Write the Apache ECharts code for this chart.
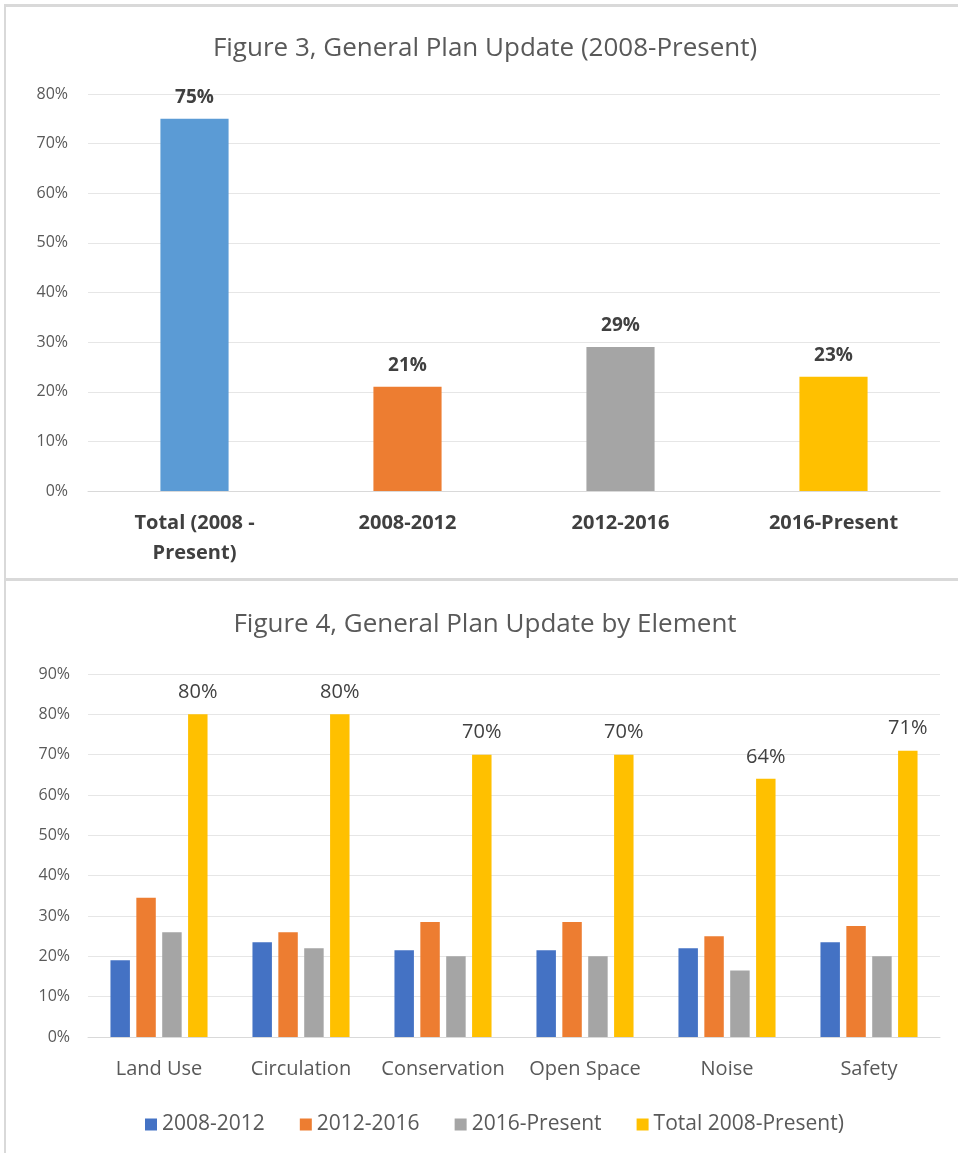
<!DOCTYPE html>
<html>
<head>
<meta charset="utf-8">
<script src="https://cdn.jsdelivr.net/npm/echarts@6/dist/echarts.min.js"></script>
<style>
    html, body { margin: 0; padding: 0; background: #fff; }
    .frame { position: absolute; left: 4px; width: 960px; border-left: 2px solid #d9d9d9; border-top: 3px solid #d9d9d9; box-sizing: border-box; }
    #fig3 { top: 4px; height: 577px; }
    #fig4 { top: 578px; height: 575px; }
</style>
</head>
<body>
<div id="fig3" class="frame"></div>
<div id="fig4" class="frame"></div>
<script>
    // Figure 3
    var periodCats = ['Total (2008 -\nPresent)', '2008-2012', '2012-2016', '2016-Present'];
    var periodValues = [75, 21, 29, 23];
    var periodColors = ['#5B9BD5', '#ED7D31', '#A5A5A5', '#FFC000'];

    // Figure 4
    var elementCats = ['Land Use', 'Circulation', 'Conservation', 'Open Space', 'Noise', 'Safety'];
    var seriesNames = ['2008-2012', '2012-2016', '2016-Present', 'Total 2008-Present)'];
    var v2008_2012 = [19, 23.5, 21.5, 21.5, 22, 23.5];
    var v2012_2016 = [34.5, 26, 28.5, 28.5, 25, 27.5];
    var v2016_present = [26, 22, 20, 20, 16.5, 20];
    var vTotal = [80, 80, 70, 70, 64, 71];
    var elementColors = ['#4472C4', '#ED7D31', '#A5A5A5', '#FFC000'];

    var font = '"Open Sans", sans-serif';

    var chart3 = echarts.init(document.getElementById('fig3'));
    chart3.setOption({
        animation: false,
        title: {
            text: 'Figure 3, General Plan Update (2008-Present)',
            left: 'center',
            top: 24,
            textStyle: { fontFamily: font, fontSize: 26, fontWeight: 'normal', color: '#595959' }
        },
        grid: { left: 82, right: 24, top: 87, height: 397 },
        xAxis: {
            type: 'category',
            data: periodCats,
            axisLine: { lineStyle: { color: '#d9d9d9' } },
            axisTick: { show: false },
            axisLabel: { fontFamily: font, fontSize: 20, fontWeight: 'bold', color: '#404040', margin: 17, lineHeight: 30 }
        },
        yAxis: {
            type: 'value',
            min: 0, max: 80, interval: 10,
            axisLine: { show: false },
            axisTick: { show: false },
            splitLine: { lineStyle: { color: '#e6e6e6' } },
            axisLabel: { fontFamily: font, fontSize: 16, color: '#595959', margin: 20, formatter: '{value}%' }
        },
        series: [{
            type: 'bar',
            barWidth: '32%',
            data: periodValues.map(function (v, i) {
                return { value: v, itemStyle: { color: periodColors[i] } };
            }),
            label: {
                show: true,
                position: 'top',
                distance: 12,
                formatter: '{c}%',
                fontFamily: font, fontSize: 19, fontWeight: 'bold', color: '#404040'
            }
        }]
    });

    var chart4 = echarts.init(document.getElementById('fig4'));
    var allValues = [v2008_2012, v2012_2016, v2016_present, vTotal];
    chart4.setOption({
        animation: false,
        color: elementColors,
        title: {
            text: 'Figure 4, General Plan Update by Element',
            left: 'center',
            top: 26,
            textStyle: { fontFamily: font, fontSize: 26, fontWeight: 'normal', color: '#595959' }
        },
        legend: {
            bottom: 13,
            left: 134,
            itemWidth: 12,
            itemHeight: 12,
            itemGap: 35,
            icon: 'rect',
            textStyle: { fontFamily: font, fontSize: 21, color: '#595959' },
            data: seriesNames
        },
        grid: { left: 82, right: 24, top: 93, height: 363 },
        xAxis: {
            type: 'category',
            data: elementCats,
            axisLine: { lineStyle: { color: '#d9d9d9' } },
            axisTick: { show: false },
            axisLabel: { fontFamily: font, fontSize: 20, color: '#595959', margin: 22, interval: 0 }
        },
        yAxis: {
            type: 'value',
            min: 0, max: 90, interval: 10,
            axisLine: { show: false },
            axisTick: { show: false },
            splitLine: { lineStyle: { color: '#e6e6e6' } },
            axisLabel: { fontFamily: font, fontSize: 16, color: '#595959', margin: 18, formatter: '{value}%' }
        },
        series: seriesNames.map(function (name, i) {
            return {
                name: name,
                type: 'bar',
                barWidth: '13.7%',
                barGap: '33%',
                data: allValues[i],
                label: {
                    show: i === 3,
                    position: 'top',
                    distance: 12,
                    formatter: '{c}%',
                    fontFamily: font, fontSize: 20, color: '#404040'
                }
            };
        })
    });
</script>
</body>
</html>
